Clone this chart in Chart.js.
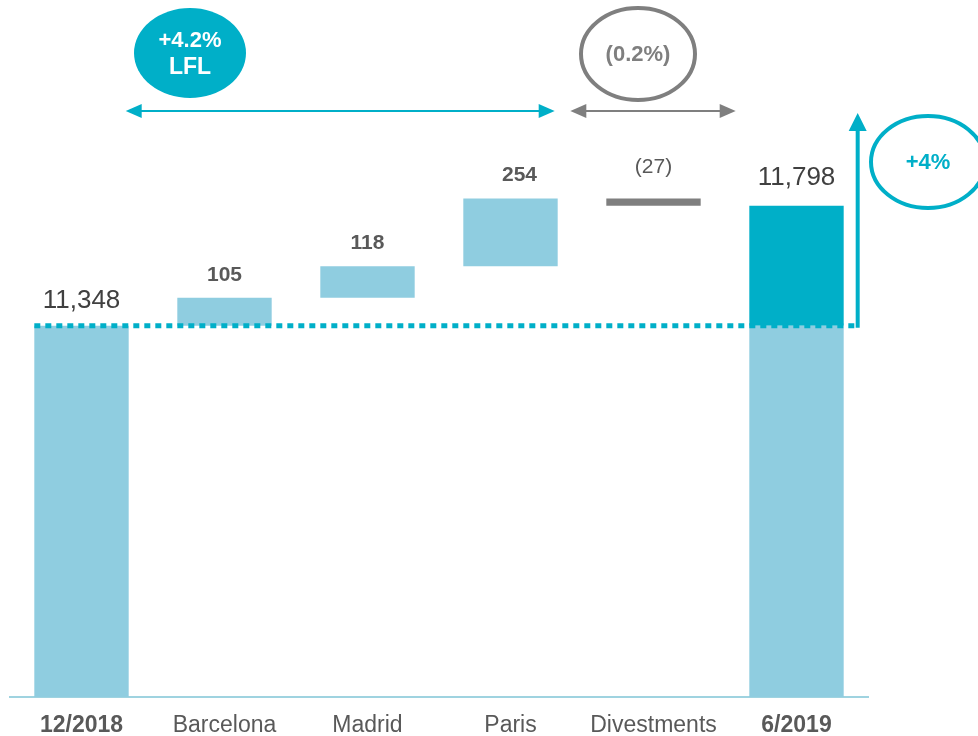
<!DOCTYPE html>
<html>
<head>
<meta charset="utf-8">
<title>Waterfall</title>
<script src="https://cdn.jsdelivr.net/npm/chart.js@4.4.0/dist/chart.umd.min.js"></script>
<style>
  html,body{margin:0;padding:0;background:#fff;}
  #wrap{width:978px;height:736px;}
</style>
</head>
<body>
<div id="wrap"><canvas id="myc" width="978" height="736"></canvas></div>
<script>
// data
var categories = ["12/2018", "Barcelona", "Madrid", "Paris", "Divestments", "6/2019"];
var startValue = 11348;
var endValue = 11798;
var changes = [105, 118, 254, -27];       // Barcelona, Madrid, Paris, Divestments
var changeLabels = ["105", "118", "254", "(27)"];
var startLabel = "11,348";
var endLabel = "11,798";
var lflText = ["+4.2%", "LFL"];
var divestText = "(0.2%)";
var totalText = "+4%";

// axis cut (not drawn)
var yMin = 9955;
var yMax = 12570;

var lightBlue = "#8fcde0";
var teal = "#00afc8";
var grey = "#7f7f7f";
var fontName = "'Liberation Sans', Arial, sans-serif";

// build floating bars
var lightData = [];
var greyData = [];
var darkData = [];
var running = startValue;
lightData.push([yMin, startValue]);
greyData.push(null);
darkData.push(null);
for (var i = 0; i < changes.length; i++) {
    var next = running + changes[i];
    if (changes[i] >= 0) {
        lightData.push([running, next]);
        greyData.push(null);
    } else {
        lightData.push(null);
        greyData.push([next, running]);
    }
    darkData.push(null);
    running = next;
}
lightData.push([yMin, startValue]);
greyData.push(null);
darkData.push([startValue, endValue]);

function arrowHead(c, x, y, dir, len, half, color) {
    // dir: 'left' 'right' 'up'
    c.fillStyle = color;
    c.beginPath();
    if (dir == 'left') { c.moveTo(x, y); c.lineTo(x + len, y - half); c.lineTo(x + len, y + half); }
    if (dir == 'right') { c.moveTo(x, y); c.lineTo(x - len, y - half); c.lineTo(x - len, y + half); }
    if (dir == 'up') { c.moveTo(x, y); c.lineTo(x - half, y + len); c.lineTo(x + half, y + len); }
    c.closePath();
    c.fill();
}

var overlay = {
    id: 'overlay',
    afterDatasetsDraw: function(chart) {
        var c = chart.ctx;
        var xs = chart.scales.x;
        var ys = chart.scales.y;
        var bw = chart.getDatasetMeta(0).data[0].width;
        var half = bw / 2;
        var baseY = ys.getPixelForValue(startValue);

        c.save();
        // dotted line at start level, over to the growth arrow
        var lineEndX = xs.getPixelForValue(5) + half + 14;
        c.strokeStyle = teal;
        c.lineWidth = 5;
        c.setLineDash([6, 5]);
        c.beginPath();
        c.moveTo(xs.getPixelForValue(0) - half, baseY);
        c.lineTo(lineEndX, baseY);
        c.stroke();
        c.setLineDash([]);

        // vertical growth arrow
        var tipY = 113;
        c.lineWidth = 4;
        c.beginPath();
        c.moveTo(lineEndX, baseY + 2);
        c.lineTo(lineEndX, tipY + 16);
        c.stroke();
        arrowHead(c, lineEndX, tipY, 'up', 18, 9, teal);

        // +4% outline ellipse
        c.lineWidth = 4;
        c.beginPath();
        c.ellipse(928, 162, 57, 46, 0, 0, Math.PI * 2);
        c.stroke();
        c.fillStyle = teal;
        c.font = "bold 22px " + fontName;
        c.textAlign = 'center';
        c.textBaseline = 'middle';
        c.fillText(totalText, 928, 163);

        // LFL arrow
        var arrowY = 111;
        var lflL = xs.getPixelForValue(0) + half - 3;
        var lflR = xs.getPixelForValue(3) + half - 3;
        c.strokeStyle = teal;
        c.lineWidth = 2;
        c.beginPath();
        c.moveTo(lflL + 10, arrowY);
        c.lineTo(lflR - 10, arrowY);
        c.stroke();
        arrowHead(c, lflL, arrowY, 'left', 16, 7, teal);
        arrowHead(c, lflR, arrowY, 'right', 16, 7, teal);

        // filled LFL bubble
        c.fillStyle = teal;
        c.beginPath();
        c.ellipse(190, 53, 56, 45, 0, 0, Math.PI * 2);
        c.fill();
        c.fillStyle = '#ffffff';
        c.font = "bold 22px " + fontName;
        c.fillText(lflText[0], 190, 41);
        c.font = "bold 23px " + fontName;
        c.fillText(lflText[1], 190, 68);

        // divestments arrow
        var dL = xs.getPixelForValue(4) - half - 36;
        var dR = xs.getPixelForValue(4) + half + 35;
        c.strokeStyle = grey;
        c.lineWidth = 2;
        c.beginPath();
        c.moveTo(dL + 10, arrowY);
        c.lineTo(dR - 10, arrowY);
        c.stroke();
        arrowHead(c, dL, arrowY, 'left', 16, 7, grey);
        arrowHead(c, dR, arrowY, 'right', 16, 7, grey);

        // grey outline bubble
        c.lineWidth = 4;
        c.beginPath();
        c.ellipse(638, 54, 57, 46, 0, 0, Math.PI * 2);
        c.stroke();
        c.fillStyle = grey;
        c.font = "bold 22px " + fontName;
        c.fillText(divestText, 638, 55);

        // value labels
        c.fillStyle = '#404040';
        c.font = "26px " + fontName;
        c.fillText(startLabel, xs.getPixelForValue(0), baseY - 25);

        var run = startValue;
        for (var k = 0; k < changes.length; k++) {
            var top = ys.getPixelForValue(Math.max(run, run + changes[k]));
            var lx = xs.getPixelForValue(k + 1);
            c.fillStyle = '#595959';
            if (changes[k] < 0) {
                c.font = "21px " + fontName;
                c.fillText(changeLabels[k], lx, top - 31);
            } else {
                c.font = "bold 21px " + fontName;
                c.fillText(changeLabels[k], lx + (k == 2 ? 9 : 0), top - 23);
            }
            run += changes[k];
        }
        c.fillStyle = '#404040';
        c.font = "26px " + fontName;
        c.fillText(endLabel, xs.getPixelForValue(5), ys.getPixelForValue(endValue) - 28);
        c.restore();
    }
}; // end of overlay plugin

var ctx = document.getElementById('myc').getContext('2d');
var myChart = new Chart(ctx, {
    type: 'bar',
    data: {
        labels: categories,
        datasets: [
            { data: lightData, backgroundColor: lightBlue, grouped: false, barPercentage: 0.66, categoryPercentage: 1 },
            { data: greyData, backgroundColor: grey, grouped: false, barPercentage: 0.66, categoryPercentage: 1 },
            { data: darkData, backgroundColor: teal, grouped: false, barPercentage: 0.66, categoryPercentage: 1 }
        ]
    },
    options: {
        responsive: false,
        animation: false,
        layout: { padding: { left: 10, right: 110, top: 0, bottom: 0 } },
        plugins: { legend: { display: false }, tooltip: { enabled: false } },
        scales: {
            x: {
                grid: { display: false, drawTicks: false },
                border: { color: '#9fd3e0', width: 2 },
                ticks: {
                    color: '#595959',
                    padding: 15,
                    maxRotation: 0,
                    font: function(c) {
                        var bold = (c.index === 0 || c.index === 5);
                        return { family: fontName, size: 23, weight: bold ? 'bold' : 'normal' };
                    }
                },
                afterFit: function(scale) { scale.height = 39; }
            },
            y: { display: false, min: yMin, max: yMax }
        }
    },
    plugins: [overlay]
});
</script>
</body>
</html>
